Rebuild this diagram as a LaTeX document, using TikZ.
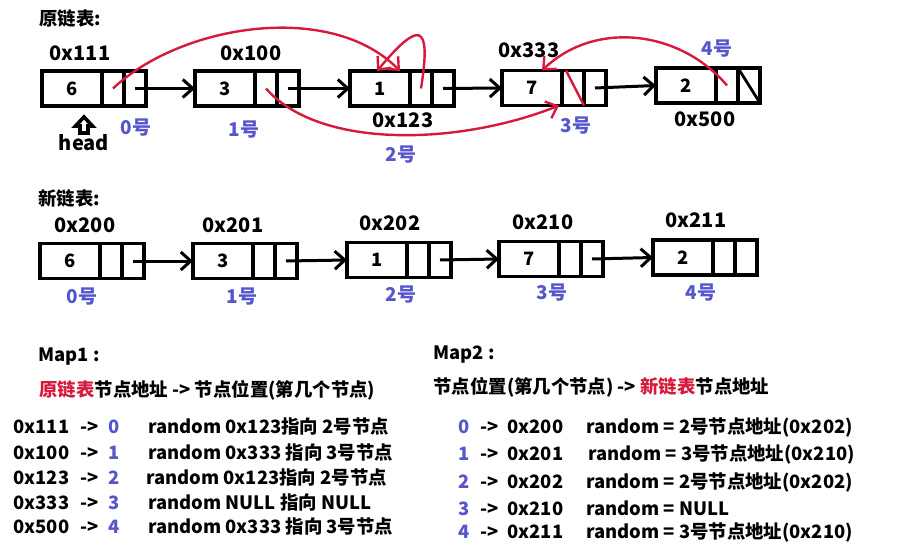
\documentclass[tikz,border=0pt]{standalone}
\usepackage{fontspec}
\setmainfont{Noto Sans CJK SC}
\usetikzlibrary{positioning,arrows.meta,calc}
\definecolor{idxblue}{RGB}{85,85,205}
\definecolor{penred}{RGB}{215,25,60}

\begin{document}
\begin{tikzpicture}[
  x=0.5pt, y=-0.5pt,
  font=\bfseries\fontsize{9.2}{11}\selectfont,
  dcell/.style={draw, line width=1.7pt, outer sep=0pt, inner sep=0pt,
                minimum width=30pt, minimum height=17.5pt},
  pcell/.style={dcell, minimum width=11pt},
  addr/.style={font=\bfseries\fontsize{10}{12}\selectfont, inner sep=0pt},
  idx/.style={font=\bfseries\fontsize{9.5}{11}\selectfont, text=idxblue, inner sep=0pt},
  ttl/.style={anchor=west, inner sep=0pt},
  maprow/.style={anchor=west, inner sep=0pt},
  nextp/.style={-{Straight Barb[length=5pt,width=9pt]}, line width=1.5pt},
  randp/.style={-{Straight Barb[length=5pt,width=9pt]}, line width=1.2pt, color=penred},
]
\useasboundingbox (0,0) rectangle (905,546);

% ---------- original list ----------
\node[ttl] (t1) at (39,19) {原链表:};

\node[dcell] (o1) at (72,88.5) {6};
\node[pcell, right=0pt of o1] (o1r) {};
\node[pcell, right=0pt of o1r] (o1n) {};
\node[dcell] (o2) at (225,88.5) {3};
\node[pcell, right=0pt of o2] (o2r) {};
\node[pcell, right=0pt of o2r] (o2n) {};
\node[dcell] (o3) at (380,88.5) {1};
\node[pcell, right=0pt of o3] (o3r) {};
\node[pcell, right=0pt of o3r] (o3n) {};
\node[dcell] (o4) at (532,88) {7};
\node[pcell, right=0pt of o4] (o4r) {};
\node[pcell, right=0pt of o4r] (o4n) {};
\node[dcell] (o5) at (686,85.5) {2};
\node[pcell, right=0pt of o5] (o5r) {};
\node[pcell, right=0pt of o5r] (o5n) {};

\draw[nextp] (o1n.center) -- (o2.west);
\draw[nextp] (o2n.center) -- (o3.west);
\draw[nextp] (o3n.center) -- (o4.west);
\draw[nextp] (o4n.center) -- (o5.west);
\draw[line width=1.4pt] (o5n.north west) -- (o5n.south east);

\node[addr] (a1) at (80,53) {0x111};
\node[addr] (a2) at (251,53) {0x100};
\node[addr] (a3) at (403,120) {0x123};
\node[addr] (a4) at (529,50) {0x333};
\node[addr] (a5) at (705,119) {0x500};

\node[idx] (i1) at (136,128) {0号};
\node[idx] (i2) at (244,130) {1号};
\node[idx] (i3) at (401,155) {2号};
\node[idx] (i4) at (576,126) {3号};
\node[idx] (i5) at (717,49) {4号};

% head marker
\draw[line width=1.8pt, line join=miter, fill=white]
  (84,117) -- (92.5,126) -- (88,126) -- (88,133) -- (80,133)
  -- (80,126) -- (75.5,126) -- cycle;
\node[addr] (hd) at (84,143) {head};

% random pointers
\draw[randp] (o1r.center) .. controls (180,25) and (330,0) .. ([xshift=-5pt]o3.north east);
\draw[randp] (o3r.center) .. controls (432,20) and (418,22) .. ([xshift=13.5pt]o3.north west);
\draw[randp] (o2r.center) .. controls (320,150) and (460,145) .. ([xshift=-1.5pt]o4.south east);
\draw[randp] (o5r.center) .. controls (680,30) and (595,20) .. ([xshift=20pt]o4.north west);
\draw[color=penred, line width=1.2pt] ([xshift=2pt]o4r.north west) -- (o4r.south east);

% ---------- new list ----------
\node[ttl] (t2) at (38,198) {新链表:};

\node[dcell] (n1) at (70,261) {6};
\node[pcell, right=0pt of n1] (n1r) {};
\node[pcell, right=0pt of n1r] (n1n) {};
\node[dcell] (n2) at (223,261) {3};
\node[pcell, right=0pt of n2] (n2r) {};
\node[pcell, right=0pt of n2r] (n2n) {};
\node[dcell] (n3) at (377,260) {1};
\node[pcell, right=0pt of n3] (n3r) {};
\node[pcell, right=0pt of n3r] (n3n) {};
\node[dcell] (n4) at (529,259) {7};
\node[pcell, right=0pt of n4] (n4r) {};
\node[pcell, right=0pt of n4r] (n4n) {};
\node[dcell] (n5) at (683,257.5) {2};
\node[pcell, right=0pt of n5] (n5r) {};
\node[pcell, right=0pt of n5r] (n5n) {};

\draw[nextp] (n1n.center) -- (n2.west);
\draw[nextp] (n2n.center) -- (n3.west);
\draw[nextp] (n3n.center) -- (n4.west);
\draw[nextp] (n4n.center) -- (n5.west);

\node[addr] (b1) at (85,225) {0x200};
\node[addr] (b2) at (233,225) {0x201};
\node[addr] (b3) at (390,223) {0x202};
\node[addr] (b4) at (543,222) {0x210};
\node[addr] (b5) at (696,220) {0x211};

\node[idx] (j1) at (82,297) {0号};
\node[idx] (j2) at (242,297) {1号};
\node[idx] (j3) at (401,295) {2号};
\node[idx] (j4) at (552,293) {3号};
\node[idx] (j5) at (701,293) {4号};

% ---------- Map1 ----------
\node[ttl] (m1) at (38,357) {Map1 :};
\node[ttl] (m1h) at (39,390) {\textcolor{penred}{原链表}节点地址 -> 节点位置(第几个节点)};
\node[maprow] (m1a) at (13,427) {\makebox[33.5pt][l]{0x111}\makebox[14pt][l]{->}\makebox[20pt][l]{\color{idxblue}0}random 0x123指向 2号节点};
\node[maprow] (m1b) at (13,453) {\makebox[33.5pt][l]{0x100}\makebox[14pt][l]{->}\makebox[20pt][l]{\color{idxblue}1}random 0x333 指向 3号节点};
\node[maprow] (m1c) at (13,478) {\makebox[33.5pt][l]{0x123}\makebox[14pt][l]{->}\makebox[19pt][l]{\color{idxblue}2}random 0x123指向 2号节点};
\node[maprow] (m1d) at (13,503) {\makebox[33.5pt][l]{0x333}\makebox[14pt][l]{->}\makebox[20pt][l]{\color{idxblue}3}random NULL 指向 NULL};
\node[maprow] (m1e) at (13,527) {\makebox[33.5pt][l]{0x500}\makebox[14pt][l]{->}\makebox[20pt][l]{\color{idxblue}4}random 0x333 指向 3号节点};

% ---------- Map2 ----------
\node[ttl] (m2) at (433,355) {Map2 :};
\node[ttl] (m2h) at (433,387) {节点位置(第几个节点) -> \textcolor{penred}{新链表}节点地址};
\node[maprow] (m2a) at (458,428) {\makebox[11pt][l]{\color{idxblue}0}\makebox[13.5pt][l]{->}\makebox[39.5pt][l]{0x200}random = 2号节点地址(0x202)};
\node[maprow] (m2b) at (458,455) {\makebox[11pt][l]{\color{idxblue}1}\makebox[13.5pt][l]{->}\makebox[40.5pt][l]{0x201}random = 3号节点地址(0x210)};
\node[maprow] (m2c) at (458,483) {\makebox[11pt][l]{\color{idxblue}2}\makebox[13.5pt][l]{->}\makebox[39.5pt][l]{0x202}random = 2号节点地址(0x202)};
\node[maprow] (m2d) at (458,508) {\makebox[11pt][l]{\color{idxblue}3}\makebox[13.5pt][l]{->}\makebox[39.5pt][l]{0x210}random = NULL};
\node[maprow] (m2e) at (458,533) {\makebox[11pt][l]{\color{idxblue}4}\makebox[13.5pt][l]{->}\makebox[39.5pt][l]{0x211}random = 3号节点地址(0x210)};

\end{tikzpicture}
\end{document}
